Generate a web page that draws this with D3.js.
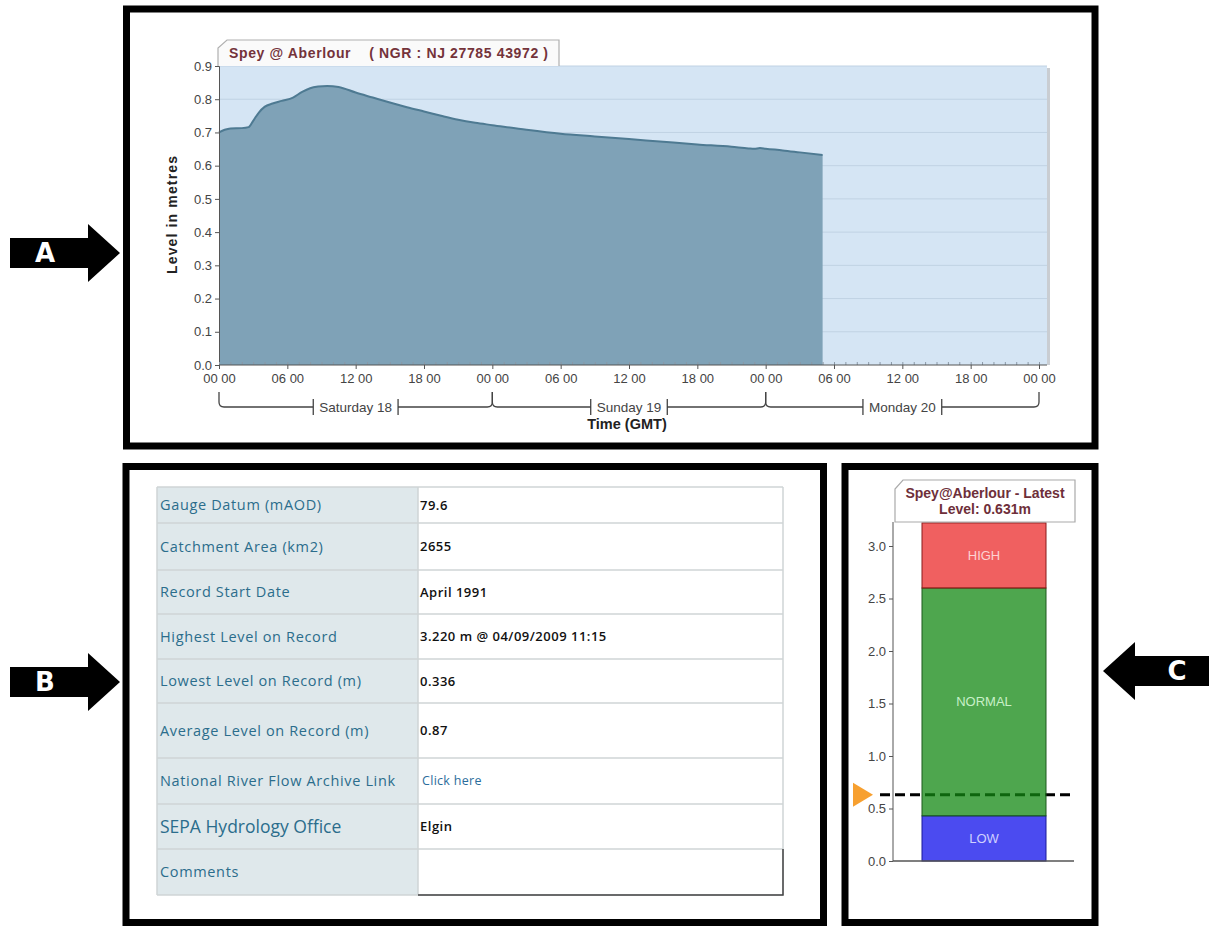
<!DOCTYPE html>
<html>
<head>
<meta charset="utf-8">
<script src="https://cdn.jsdelivr.net/npm/d3@7"></script>
<style>
  body { margin: 0; background: #fff; }
  svg { display: block; font-family: "Liberation Sans", Arial, sans-serif; }
</style>
</head>
<body>
<svg id="figure" width="1209" height="926"></svg>
<script>
// ---- data: river level at Spey @ Aberlour (hours since Sat 00:00) ----
const hours = [0, 0.5, 1, 2, 2.6, 3, 3.5, 4, 4.7, 5.5, 6.5, 7.3, 8, 8.7, 9.5, 10.5,
    12, 13.5, 15, 16.5, 18, 19.5, 21, 22.5, 24, 27, 30, 33, 36, 39, 42, 45,
    46.5, 47, 47.5, 48, 49.5, 51, 53];
const levels = [0.700, 0.708, 0.712, 0.713, 0.716, 0.735, 0.760, 0.777, 0.787, 0.795,
    0.805, 0.822, 0.833, 0.838, 0.840, 0.837, 0.820, 0.805, 0.790, 0.776, 0.763,
    0.750, 0.738, 0.729, 0.722, 0.708, 0.696, 0.688, 0.680, 0.672, 0.664, 0.657,
    0.652, 0.651, 0.653, 0.651, 0.646, 0.640, 0.632];

const levelTicks = [0.0, 0.1, 0.2, 0.3, 0.4, 0.5, 0.6, 0.7, 0.8, 0.9];
const timeTicks = [0, 6, 12, 18, 24, 30, 36, 42, 48, 54, 60, 66, 72];
const timeLabels = ["00 00", "06 00", "12 00", "18 00", "00 00", "06 00", "12 00",
    "18 00", "00 00", "06 00", "12 00", "18 00", "00 00"];
const dayStarts = [0, 24, 48];
const dayLabels = ["Saturday 18", "Sunday 19", "Monday 20"];

// ---- data: station table ----
const fields = ["Gauge Datum (mAOD)", "Catchment Area (km2)", "Record Start Date",
    "Highest Level on Record", "Lowest Level on Record (m)", "Average Level on Record (m)",
    "National River Flow Archive Link", "SEPA Hydrology Office", "Comments"];
const values = ["79.6", "2655", "April 1991", "3.220 m @ 04/09/2009 11:15", "0.336",
    "0.87", "Click here", "Elgin", ""];

// ---- data: gauge bands ----
const bandNames = ["LOW", "NORMAL", "HIGH"];
const bandFrom = [0, 0.43, 2.6];
const bandTo = [0.43, 2.6, 3.22];
const gaugeTicks = [0.0, 0.5, 1.0, 1.5, 2.0, 2.5, 3.0];
const latestLevel = 0.631;

const svg = d3.select("#figure");

// ---------------- panel frames and arrows ----------------
const frames = [
    { x: 126.5, y: 9, w: 968.5, h: 437 },
    { x: 126, y: 466.5, w: 697.5, h: 456 },
    { x: 845, y: 466.5, w: 250, h: 456 }
];
svg.selectAll("rect.frame").data(frames).join("rect")
    .attr("class", "frame")
    .attr("x", d => d.x).attr("y", d => d.y)
    .attr("width", d => d.w).attr("height", d => d.h)
    .attr("fill", "none").attr("stroke", "#000").attr("stroke-width", 7);

function arrow(tipX, cy, dir, letter) {
    // dir = 1 points right, -1 points left
    const base = tipX - dir * 32, tail = tipX - dir * 110;
    const pts = [[tail, cy - 15], [base, cy - 15], [base, cy - 29], [tipX, cy],
        [base, cy + 29], [base, cy + 15], [tail, cy + 15]];
    svg.append("path").attr("d", d3.line()(pts) + "Z").attr("fill", "#000");
    svg.append("text")
        .attr("x", dir > 0 ? 45 : 1177).attr("y", cy)
        .attr("dy", "0.36em").attr("text-anchor", "middle")
        .attr("font-family", "DejaVu Sans").attr("font-weight", "bold")
        .attr("font-size", 26).attr("fill", "#fff").text(letter);
}
arrow(120, 253, 1, "A");
arrow(120, 682, 1, "B");
arrow(1103, 671, -1, "C");

// ---------------- panel A: level chart ----------------
const x = d3.scaleLinear().domain([0, 72]).range([219, 1039]);
const y = d3.scaleLinear().domain([0, 0.9]).range([365, 66]);

const gA = svg.append("g");
gA.append("rect").attr("x", 219).attr("y", 66).attr("width", 828).attr("height", 299)
    .attr("fill", "#d5e5f4");
gA.append("line").attr("x1", 1048.5).attr("x2", 1048.5).attr("y1", 68).attr("y2", 365)
    .attr("stroke", "#c9cdd2").attr("stroke-width", 3);

gA.selectAll("line.grid").data(levelTicks.slice(1)).join("line")
    .attr("class", "grid")
    .attr("x1", 219).attr("x2", 1047)
    .attr("y1", d => y(d)).attr("y2", d => y(d))
    .attr("stroke", "#c0d2e3").attr("stroke-width", 1);

const pts = hours.map((h, i) => [h, levels[i]]);
gA.append("path").datum(pts)
    .attr("d", d3.area().x(d => x(d[0])).y0(y(0)).y1(d => y(d[1])).curve(d3.curveMonotoneX))
    .attr("fill", "#7fa2b7");
gA.append("path").datum(pts)
    .attr("d", d3.line().x(d => x(d[0])).y(d => y(d[1])).curve(d3.curveMonotoneX))
    .attr("fill", "none").attr("stroke", "#4e7a92").attr("stroke-width", 2);

// y axis
const yAxis = d3.axisLeft(y).tickValues(levelTicks).tickFormat(d3.format(".1f"))
    .tickSize(4).tickPadding(3);
gA.append("g").attr("transform", "translate(219,0)").call(yAxis)
    .call(g => g.selectAll("text").attr("font-size", 13).attr("fill", "#444")
        .attr("font-family", "Liberation Sans, Arial"))
    .call(g => g.selectAll("line,path").attr("stroke", "#555"));

// x axis: hourly minor ticks, 6 hour labels
gA.append("g").attr("transform", "translate(0,365)")
    .call(d3.axisBottom(x).ticks(72).tickSize(-3).tickFormat(""))
    .call(g => g.select(".domain").remove())
    .call(g => g.selectAll("line").attr("stroke", "#8a98a6"));
gA.append("g").attr("transform", "translate(0,365)")
    .call(d3.axisBottom(x).tickValues(timeTicks).tickSize(4).tickPadding(5)
        .tickFormat((d, i) => timeLabels[i]))
    .call(g => g.selectAll("text").attr("font-size", 13).attr("fill", "#444")
        .attr("font-family", "Liberation Sans, Arial"))
    .call(g => g.selectAll("line").attr("stroke", "#555"))
    .call(g => g.select(".domain").attr("d", "M219,0H1047").attr("stroke", "#555"));

// day braces
dayStarts.forEach((d0, i) => {
    const x0 = x(d0), x1 = x(d0 + 24), xc = (x0 + x1) / 2;
    const t = gA.append("text").attr("x", xc).attr("y", 412)
        .attr("text-anchor", "middle").attr("font-size", 13.5).attr("fill", "#444")
        .text(dayLabels[i]);
    const half = t.node().getComputedTextLength() / 2 + 6;
    const lx = xc - half, rx = xc + half;
    const p = d3.path();
    p.moveTo(x0, 392); p.lineTo(x0, 402); p.quadraticCurveTo(x0, 407, x0 + 5, 407); p.lineTo(lx, 407);
    p.moveTo(lx, 399); p.lineTo(lx, 415);
    p.moveTo(rx, 399); p.lineTo(rx, 415);
    p.moveTo(rx, 407); p.lineTo(x1 - 5, 407); p.quadraticCurveTo(x1, 407, x1, 402); p.lineTo(x1, 392);
    gA.append("path").attr("d", p.toString()).attr("fill", "none")
        .attr("stroke", "#444").attr("stroke-width", 1.3);
});

gA.append("text").attr("x", 627).attr("y", 429).attr("text-anchor", "middle")
    .attr("font-size", 14.5).attr("font-weight", "bold").attr("fill", "#222")
    .text("Time (GMT)");
gA.append("text").attr("transform", "translate(177,215) rotate(-90)")
    .attr("text-anchor", "middle").attr("font-size", 14).attr("font-weight", "bold")
    .attr("fill", "#222").attr("textLength", 118).attr("lengthAdjust", "spacing")
    .text("Level in metres");

// title tab
gA.append("path").attr("d", "M218,66V48L227,40H559V66")
    .attr("fill", "#fafafa").attr("stroke", "#b0b0b0").attr("stroke-width", 1.2);
gA.append("text").attr("x", 229).attr("y", 58).attr("font-size", 14)
    .attr("font-weight", "bold").attr("fill", "#74333a").attr("xml:space", "preserve")
    .attr("textLength", 319).attr("lengthAdjust", "spacing")
    .text("Spey @ Aberlour    ( NGR : NJ 27785 43972 )");

// ---------------- panel B: station table ----------------
const rowEdges = [487, 523, 570, 614, 659, 703, 758, 804, 849, 895];
const colL = 157, colM = 418, colR = 783;
const gB = svg.append("g").attr("font-family", "Open Sans, sans-serif");
fields.forEach((f, i) => {
    const y0 = rowEdges[i], y1 = rowEdges[i + 1], yc = (y0 + y1) / 2;
    const big = f === "SEPA Hydrology Office";
    gB.append("rect").attr("x", colL).attr("y", y0).attr("width", colM - colL)
        .attr("height", y1 - y0).attr("fill", "#dfe8eb");
    gB.append("text").attr("x", 160).attr("y", yc).attr("dy", "0.35em")
        .attr("font-size", big ? 17.5 : 14.5).attr("letter-spacing", big ? 0 : 0.65)
        .attr("fill", "#2b6d8c").text(f);
    const link = values[i] === "Click here";
    gB.append("text").attr("x", link ? 422 : 420).attr("y", yc)
        .attr("dy", "0.35em").attr("font-size", link ? 12.5 : 13)
        .attr("letter-spacing", link ? 0.3 : 0.5)
        .attr("font-weight", link ? 500 : 600)
        .attr("fill", link ? "#2b6d9c" : "#111").text(values[i]);
});
gB.selectAll("line.row").data(rowEdges).join("line")
    .attr("class", "row").attr("x1", colL).attr("x2", colR)
    .attr("y1", d => d).attr("y2", d => d)
    .attr("stroke", "#cfd4d6").attr("stroke-width", 1.5);
[colL, colM, colR].forEach(cx => {
    gB.append("line").attr("x1", cx).attr("x2", cx).attr("y1", 487).attr("y2", 895)
        .attr("stroke", "#cfd4d6").attr("stroke-width", 1.5);
});
gB.append("path").attr("d", `M${colM},895H${colR}V849`).attr("fill", "none")
    .attr("stroke", "#444").attr("stroke-width", 1.5);

// ---------------- panel C: latest level gauge ----------------
const yc = d3.scaleLinear().domain([0, 3]).range([861, 546]);
const gC = svg.append("g");
const bandFill = ["#0f0feb", "#138813", "#eb2b2b"];
const bandStroke = ["#1a1a9a", "#1c5a1c", "#8a1a1a"];
const bandText = ["#cfd0ff", "#c8f0c8", "#fdd2d2"];

gC.append("line").attr("x1", 880).attr("x2", 1075)
    .attr("y1", yc(latestLevel)).attr("y2", yc(latestLevel))
    .attr("stroke", "#000").attr("stroke-width", 3).attr("stroke-dasharray", "10,5");

gC.selectAll("rect.band").data(bandNames).join("rect")
    .attr("class", "band")
    .attr("x", 922).attr("width", 124)
    .attr("y", (d, i) => yc(bandTo[i])).attr("height", (d, i) => yc(bandFrom[i]) - yc(bandTo[i]))
    .attr("fill", (d, i) => bandFill[i]).attr("fill-opacity", 0.75)
    .attr("stroke", (d, i) => bandStroke[i]).attr("stroke-width", 1);
gC.selectAll("text.band").data(bandNames).join("text")
    .attr("class", "band")
    .attr("x", 984).attr("y", (d, i) => yc((bandFrom[i] + bandTo[i]) / 2))
    .attr("dy", "0.35em").attr("text-anchor", "middle").attr("font-size", 13)
    .attr("fill", (d, i) => bandText[i]).text(d => d);

gC.append("g").attr("transform", "translate(893,0)")
    .call(d3.axisLeft(yc).tickValues(gaugeTicks).tickFormat(d3.format(".1f")).tickSize(4).tickPadding(3))
    .call(g => g.select(".domain").attr("d", "M0,522V861"))
    .call(g => g.selectAll("text").attr("font-size", 13).attr("fill", "#444")
        .attr("font-family", "Liberation Sans, Arial"))
    .call(g => g.selectAll("line,path").attr("stroke", "#555"));
gC.append("line").attr("x1", 893).attr("x2", 1074).attr("y1", 861).attr("y2", 861)
    .attr("stroke", "#555").attr("stroke-width", 1.5);

gC.append("path").attr("d", `M853,${yc(latestLevel) - 12}L873,${yc(latestLevel)}L853,${yc(latestLevel) + 12}Z`)
    .attr("fill", "#f7a030");

gC.append("path").attr("d", "M895,522V489L903,480H1075V522Z")
    .attr("fill", "#fff").attr("stroke", "#aaa").attr("stroke-width", 1.2);
gC.append("text").attr("x", 985).attr("y", 498).attr("text-anchor", "middle")
    .attr("font-size", 14).attr("font-weight", "bold").attr("fill", "#6e2f3a")
    .text("Spey@Aberlour - Latest");
gC.append("text").attr("x", 985).attr("y", 514).attr("text-anchor", "middle")
    .attr("font-size", 14).attr("font-weight", "bold").attr("fill", "#6e2f3a")
    .text(`Level: ${latestLevel}m`);
</script>
</body>
</html>
